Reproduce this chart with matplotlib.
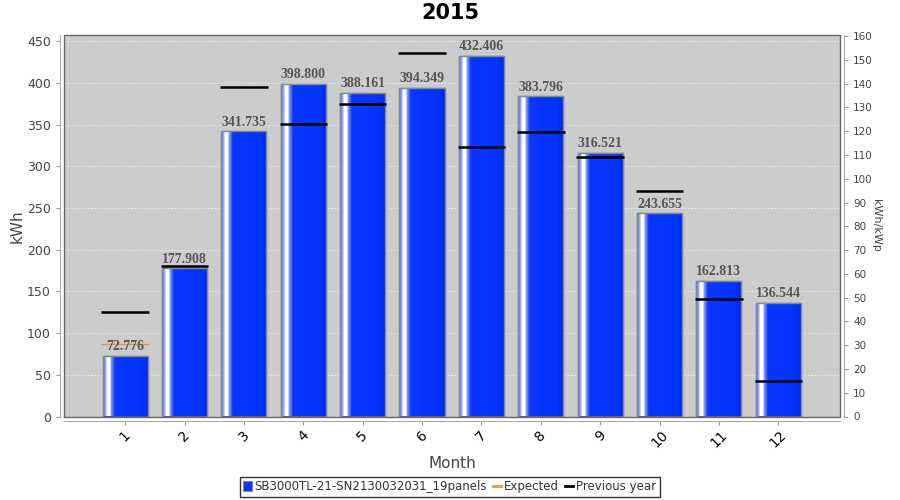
import numpy as np
import matplotlib
matplotlib.use("Agg")
import matplotlib.pyplot as plt
from matplotlib.patches import Rectangle
from matplotlib.lines import Line2D
from matplotlib.colors import LinearSegmentedColormap

months = [1, 2, 3, 4, 5, 6, 7, 8, 9, 10, 11, 12]
month_labels = [str(m) for m in months]
production = [72.776, 177.908, 341.735, 398.800, 388.161, 394.349,
              432.406, 383.796, 316.521, 243.655, 162.813, 136.544]
expected = [86.4, 0, 0, 0, 0, 0, 0, 0, 0, 0, 0, 0]
previous_year = [125.0, 180.0, 395.0, 351.0, 375.0, 435.6,
                 323.0, 341.0, 311.0, 270.0, 140.5, 42.0]
kwp = 2.85
series_name = "SB3000TL-21-SN2130032031_19panels"

fig = plt.figure(figsize=(9, 5), dpi=100)
ax = fig.add_axes([64/900, 1-416.5/500, (840-64)/900, (416.5-35)/500])
ax.set_facecolor("#cccccc")

ymax = 457.4
ax.set_xlim(-0.03, 13.04)
ax.set_ylim(0, ymax)

stops = [(0.0, (70/255, 110/255, 1.0)),
         (0.05, (140/255, 165/255, 1.0)),
         (0.09, (1.0, 1.0, 1.0)),
         (0.14, (1.0, 1.0, 1.0)),
         (0.19, (110/255, 140/255, 1.0)),
         (0.26, (10/255, 55/255, 1.0)),
         (0.85, (0/255, 52/255, 250/255)),
         (1.0, (0/255, 42/255, 225/255))]
cmap = LinearSegmentedColormap.from_list("barg", stops)
grad = np.linspace(0, 1, 300).reshape(1, -1)

bw = 0.76
bars = ax.bar(months, production, width=bw, color="#0537ff",
              edgecolor="#888888", linewidth=1.0, zorder=3)
for b in bars:
    x0, w, h = b.get_x(), b.get_width(), b.get_height()
    im = ax.imshow(grad, cmap=cmap, aspect="auto",
                   extent=(x0, x0 + w, 0, h), zorder=3.1,
                   interpolation="nearest")
    im.set_clip_path(b)
    ax.add_patch(Rectangle((x0, 0), w, h, fill=False, edgecolor="#888888",
                           linewidth=1.0, zorder=3.2))

for m, v in zip(months, production):
    ax.text(m, v + 3, f"{v:.3f}", ha="center", va="bottom",
            fontsize=10, fontweight="bold", family="Liberation Serif",
            color="#555555", zorder=5)

lw_w = 0.8
ax.hlines(expected, np.array(months) - lw_w/2, np.array(months) + lw_w/2,
          colors="#f0923a", linewidth=1.0, zorder=4)
ax.hlines(previous_year, np.array(months) - lw_w/2, np.array(months) + lw_w/2,
          colors="black", linewidth=1.8, zorder=4.5)

ax.set_yticks(np.arange(0, 451, 50))
ax.grid(axis="y", color="#eeeeee", linestyle=(0, (2, 2)), linewidth=0.6, zorder=1)
ax.set_axisbelow(True)
ax.set_xticks(months)
ax.set_xticklabels(month_labels, fontsize=9, color="#444444")
ax.tick_params(axis="y", labelsize=9, labelcolor="#444444", color="#999999", length=3)
ax.tick_params(axis="x", color="#999999", length=3, pad=2)

for s in ["left", "bottom"]:
    ax.spines[s].set_position(("outward", 3))
    ax.spines[s].set_color("#aaaaaa")
ax.spines["top"].set_visible(False)
ax.spines["right"].set_visible(False)
ax.add_patch(Rectangle((0, 0), 1, 1, transform=ax.transAxes, fill=False,
                       edgecolor="#666666", linewidth=1.0, zorder=6, clip_on=False))

ax.set_ylabel("kWh", fontsize=11, color="#444444", labelpad=2)
ax.set_xlabel("Month", fontsize=11, color="#444444", labelpad=4)

ax2 = ax.twinx()
ax2.set_ylim(0, ymax / kwp)
ax2.set_yticks(np.arange(0, 161, 10))
ax2.tick_params(axis="y", labelsize=7.5, labelcolor="#444444", color="#999999", length=3)
for s in ["left", "bottom", "top"]:
    ax2.spines[s].set_visible(False)
ax2.spines["right"].set_position(("outward", 3))
ax2.spines["right"].set_color("#aaaaaa")
ax2.set_ylabel("kWh/kWp", fontsize=8, color="#444444", rotation=270, labelpad=6)

fig.text(0.5, 0.974, "2015", ha="center", va="center", fontsize=15, fontweight="bold")

handles = [Rectangle((0, 0), 1, 1, facecolor="#0537ff", edgecolor="#888888", linewidth=0.8),
           Line2D([0], [0], color="#f0923a", linewidth=2),
           Line2D([0], [0], color="black", linewidth=2)]
leg = fig.legend(handles, [series_name, "Expected", "Previous year"],
                 loc="lower center", bbox_to_anchor=(0.5, 0.002), ncol=3,
                 fontsize=8.5, frameon=True, fancybox=False, edgecolor="black",
                 handlelength=0.7, handleheight=0.8, handletextpad=0.25,
                 columnspacing=0.5, borderpad=0.3, borderaxespad=0.2)
leg.get_frame().set_linewidth(1.0)
for t in leg.get_texts():
    t.set_color("#333333")

for lab in ax.get_xticklabels():
    lab.set_rotation(45)
    lab.set_ha("center")
    lab.set_va("top")

fig.savefig("out.png", dpi=100)
